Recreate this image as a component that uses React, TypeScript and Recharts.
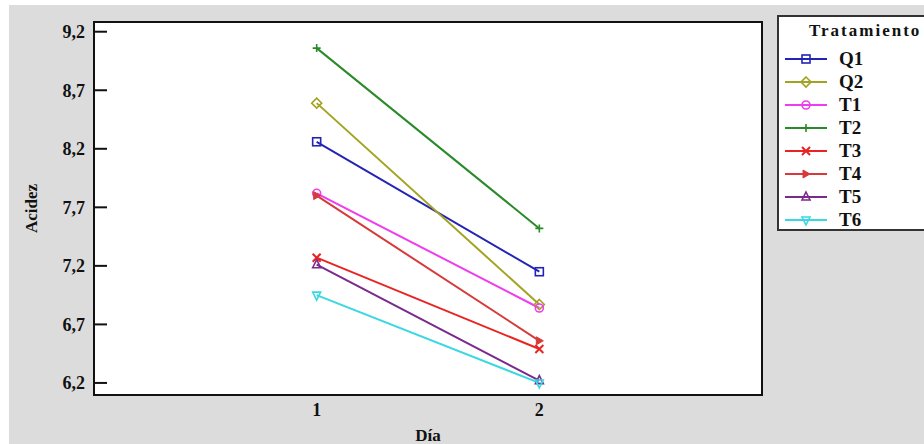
import { LineChart, Line, XAxis, YAxis, ReferenceArea } from 'recharts';

const dias = [1, 2];
const series = ['Q1', 'Q2', 'T1', 'T2', 'T3', 'T4', 'T5', 'T6'];
const q1 = [8.26, 7.15];
const q2 = [8.59, 6.87];
const t1 = [7.82, 6.84];
const t2 = [9.06, 7.52];
const t3 = [7.27, 6.49];
const t4 = [7.8, 6.56];
const t5 = [7.21, 6.22];
const t6 = [6.95, 6.2];
const yTicks = [6.2, 6.7, 7.2, 7.7, 8.2, 8.7, 9.2];
const xTicks = [1, 2];

const values: Record<string, number[]> = { Q1: q1, Q2: q2, T1: t1, T2: t2, T3: t3, T4: t4, T5: t5, T6: t6 };

const COLORS: Record<string, string> = {
  Q1: '#2424b4',
  Q2: '#a3a322',
  T1: '#ee3cee',
  T2: '#2a8a2a',
  T3: '#e82424',
  T4: '#d83a3a',
  T5: '#7a2a8c',
  T6: '#3ad8e0',
};

const data = dias.map((d, i) => {
  const row: Record<string, number> = { dia: d };
  series.forEach((s) => (row[s] = values[s][i]));
  return row;
});

const FONT = '"Liberation Serif", "Times New Roman", serif';

function marker(name: string, cx: number, cy: number, color: string, key?: string | number) {
  const r = 4;
  const common = { stroke: color, strokeWidth: 1.6, fill: 'none' };
  switch (name) {
    case 'Q1':
      return <rect key={key} x={cx - r} y={cy - r} width={2 * r} height={2 * r} {...common} />;
    case 'Q2':
      return <polygon key={key} points={`${cx},${cy - 5} ${cx + 5},${cy} ${cx},${cy + 5} ${cx - 5},${cy}`} {...common} />;
    case 'T1':
      return <circle key={key} cx={cx} cy={cy} r={r} {...common} />;
    case 'T2':
      return <path key={key} d={`M${cx - 4},${cy}H${cx + 4}M${cx},${cy - 4}V${cy + 4}`} {...common} />;
    case 'T3':
      return <path key={key} d={`M${cx - 4},${cy - 4}L${cx + 4},${cy + 4}M${cx + 4},${cy - 4}L${cx - 4},${cy + 4}`} {...common} strokeWidth={2} />;
    case 'T4':
      return <polygon key={key} points={`${cx + 4},${cy} ${cx - 3},${cy - 4} ${cx - 3},${cy + 4}`} stroke={color} fill={color} />;
    case 'T5':
      return <polygon key={key} points={`${cx},${cy - 5} ${cx + 4},${cy + 3} ${cx - 4},${cy + 3}`} {...common} />;
    default:
      return <polygon key={key} points={`${cx},${cy + 5} ${cx + 4},${cy - 3} ${cx - 4},${cy - 3}`} {...common} />;
  }
}

function fmt(v: number) {
  return v.toFixed(1).replace('.', ',');
}

function TratLegend() {
  return (
    <div
      style={{
        position: 'absolute',
        left: 777,
        top: 15,
        width: 170,
        height: 212,
        border: '2px solid #333',
        background: '#fff',
        fontFamily: FONT,
        fontWeight: 'bold',
        color: '#111',
      }}
    >
      <div style={{ position: 'absolute', left: 30, top: 4, fontSize: 17, letterSpacing: 2, whiteSpace: 'nowrap' }}>Tratamiento</div>
      {series.map((s, i) => (
        <div key={s} style={{ position: 'absolute', left: 6, top: 31 + i * 23, height: 22, display: 'flex', alignItems: 'center' }}>
          <svg width={44} height={14}>
            <line x1={0} y1={7} x2={42} y2={7} stroke={COLORS[s]} strokeWidth={2} />
            {marker(s, 21, 7, COLORS[s])}
          </svg>
          <span style={{ marginLeft: 10, fontSize: 19 }}>{s}</span>
        </div>
      ))}
    </div>
  );
}

export default function App() {
  return (
    <div style={{ position: 'absolute', left: 0, top: 0, width: 924, height: 444, overflow: 'hidden', background: '#fff' }}>
      <div style={{ position: 'absolute', left: 9, top: 5, right: 0, bottom: 0, background: '#dcdcdc' }} />
      <div style={{ position: 'absolute', left: 0, top: 0 }}>
        <LineChart width={924} height={444} data={data} margin={{ top: 22, right: 0, bottom: 0, left: 0 }}>
          <XAxis
            dataKey="dia"
            type="number"
            domain={[0, 3]}
            ticks={xTicks}
            tickLine={false}
            axisLine={false}
            height={49}
            tick={{ fill: '#111', fontSize: 18, fontWeight: 'bold', fontFamily: FONT }}
            tickMargin={2}
            label={{ value: 'Día', position: 'insideBottom', offset: 3, fill: '#111', fontSize: 17, fontWeight: 'bold', fontFamily: FONT }}
          />
          <YAxis
            type="number"
            domain={[6.097, 9.283]}
            ticks={yTicks}
            width={94}
            axisLine={false}
            tickSize={-13}
            tickMargin={22}
            tickLine={{ stroke: '#111', strokeWidth: 2 }}
            tickFormatter={fmt}
            tick={{ fill: '#111', fontSize: 18, fontWeight: 'bold', fontFamily: FONT }}
            allowDataOverflow
            label={{ value: 'Acidez', angle: -90, position: 'insideLeft', offset: 31, fill: '#111', fontSize: 17, fontWeight: 'bold', fontFamily: FONT, style: { textAnchor: 'middle' } }}
          />
          <YAxis
            yAxisId="r"
            orientation="right"
            type="number"
            domain={[6.097, 9.283]}
            ticks={yTicks}
            width={162}
            axisLine={false}
            tickSize={-13}
            tickLine={{ stroke: '#111', strokeWidth: 2 }}
            tick={false}
            allowDataOverflow
          />
          <ReferenceArea x1={0} x2={3} y1={6.097} y2={9.283} fill="#fff" fillOpacity={1} stroke="#111" strokeWidth={2} ifOverflow="visible" />
          {series.map((s) => (
            <Line
              key={s}
              type="linear"
              dataKey={s}
              stroke={COLORS[s]}
              strokeWidth={2}
              isAnimationActive={false}
              dot={(p: any) => marker(s, p.cx, p.cy, COLORS[s], p.index)}
              activeDot={false}
            />
          ))}
        </LineChart>
      </div>
      <TratLegend />
    </div>
  );
}
